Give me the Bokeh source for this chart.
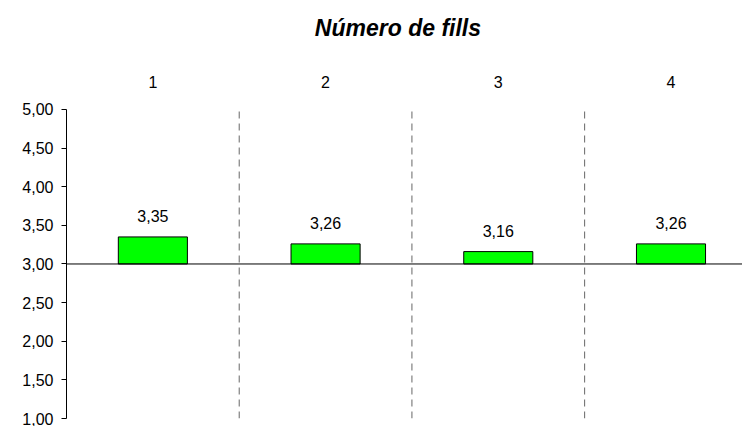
from bokeh.plotting import figure
from bokeh.models import (Range1d, FixedTicker, CustomJSTickFormatter,
                          Span, ColumnDataSource)
from bokeh.core.properties import value
from bokeh.embed import file_html
from bokeh.resources import INLINE

title_text = "Número de fills"
categories = ["1", "2", "3", "4"]
values = [3.35, 3.26, 3.16, 3.26]
labels = ["3,35", "3,26", "3,16", "3,26"]
baseline = 3.0
y_min, y_max = 1.0, 5.0
y_ticks = [1.0, 1.5, 2.0, 2.5, 3.0, 3.5, 4.0, 4.5, 5.0]

xs = [i + 1 for i in range(len(categories))]
src = ColumnDataSource(dict(x=xs, top=values, label=labels))
cat_src = ColumnDataSource(dict(x=xs, y=[y_max] * len(xs), cat=categories))
sep_x = [x + 0.5 for x in xs[:-1]]
sep_src = ColumnDataSource(dict(x=sep_x, y0=[y_min] * len(sep_x), y1=[y_max] * len(sep_x)))

FONT = "Liberation Sans"
LBL = "16px"

# frame spans the whole canvas height above the bottom border; the extra
# room above y_max holds the category labels and the title
p = figure(width=742, height=426, output_backend="svg", toolbar_location=None,
           x_range=Range1d(0.5, 4.414), y_range=Range1d(y_min, 6.41),
           x_axis_location=None, y_axis_location="left",
           min_border_left=66, min_border_right=0, min_border_top=0,
           min_border_bottom=8)
p.outline_line_color = None
p.xgrid.visible = False
p.ygrid.visible = False
p.background_fill_color = "white"
p.border_fill_color = "white"

# Y axis
ya = p.yaxis[0]
ya.bounds = (y_min, y_max)
ya.ticker = FixedTicker(ticks=y_ticks)
ya.formatter = CustomJSTickFormatter(code="return tick.toFixed(2).replace('.', ',');")
ya.major_label_text_font = FONT
ya.major_label_text_font_size = LBL
ya.major_label_text_color = "black"
ya.axis_line_color = "black"
ya.major_tick_line_color = "black"
ya.major_tick_in = 0
ya.major_tick_out = 5
ya.minor_tick_line_color = None
ya.major_label_standoff = 8

# Separators between categories
p.segment(x0="x", y0="y0", x1="x", y1="y1", source=sep_src,
          line_color="#666666", line_width=1, line_dash="7 5")

# Baseline
p.add_layout(Span(location=baseline, dimension="width", line_color="black", line_width=1))

# Bars
p.vbar(x="x", top="top", bottom=baseline, width=0.4, source=src,
       fill_color="#00FF00", line_color="black", line_width=1)

# Value labels
p.text(x="x", y="top", text="label", source=src, text_align="center",
       text_baseline="bottom", y_offset=-15, text_font_size=LBL,
       text_color="black", text_font=value(FONT))

# Category labels along the top
p.text(x="x", y="y", text="cat", source=cat_src, text_align="center",
       text_baseline="middle", y_offset=-27, text_font_size=LBL,
       text_color="black", text_font=value(FONT))

# Title
p.text(x=[sum(xs) / len(xs)], y=[y_max], text=[title_text], text_align="center",
       text_baseline="middle", x_offset=-14, y_offset=-81, text_font_size="23px",
       text_font_style="bold italic", text_color="black", text_font=value(FONT))

open("out.html", "w").write(file_html(p, INLINE))
